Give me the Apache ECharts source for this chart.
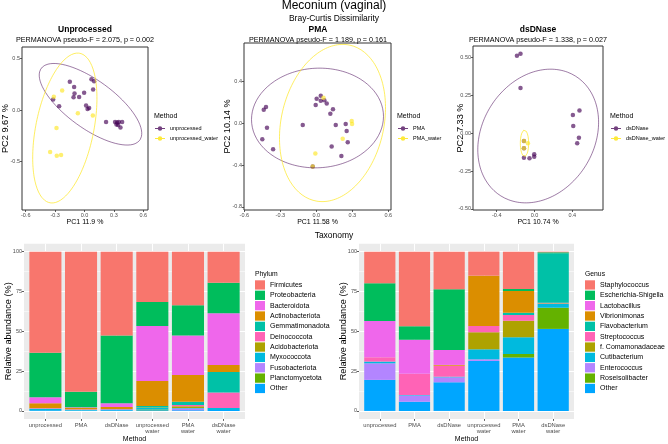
<!DOCTYPE html>
<html><head><meta charset="utf-8">
<script src="https://cdn.jsdelivr.net/npm/echarts@6/dist/echarts.min.js"></script>
<style>html,body{margin:0;padding:0;background:#fff}#c{width:668px;height:444px}</style>
</head><body><div id="c"></div><script>
// ---------------- DATA ----------------
// PCoA: Unprocessed
const unprocX = [-0.15,0.071,0.098,-0.106,0.088,-0.102,-0.004,-0.112,-0.055,-0.32,-0.259,0.016,0.031,0.047,0.22,0.312,0.333,0.35,0.384,0.326,0.343,0.367];
const unprocY = [0.274,0.297,0.278,0.223,0.2,0.16,0.168,0.123,0.126,0.103,0.036,0.045,0.01,0.019,-0.116,-0.116,-0.12,-0.116,-0.116,-0.139,-0.145,-0.168];
const unprocWaterX = [-0.228,-0.313,-0.068,0.085,-0.286,-0.351,-0.283,-0.239];
const unprocWaterY = [0.19,0.129,-0.032,-0.052,-0.174,-0.407,-0.442,-0.436];
// PCoA: PMA
const pmaX = [0.037,0.003,0.037,0.067,0.087,-0.005,0.139,0.117,-0.419,-0.438,-0.113,0.162,0.245,-0.411,0.253,-0.45,0.262,-0.36,0.128,0.209,-0.03];
const pmaY = [0.263,0.235,0.216,0.22,0.19,0.175,0.134,0.092,0.156,0.13,-0.016,-0.016,-0.007,-0.042,-0.074,-0.153,-0.181,-0.248,-0.223,-0.312,-0.414];
const pmaWaterX = [0.06,0.295,0.298,0.22,-0.008,-0.03];
const pmaWaterY = [0.245,0.022,-0.007,-0.147,-0.29,-0.414];
// PCoA: dsDNase
const dsX = [-0.186,-0.148,-0.148,0.476,0.406,0.41,0.47,0.452,-0.112,-0.112,-0.112,-0.053,-0.003,-0.003];
const dsY = [0.513,0.526,0.30,0.15,0.121,0.048,-0.029,-0.066,-0.051,-0.099,-0.161,-0.165,-0.139,-0.155];
const dsWaterX = [-0.112,-0.07,-0.112];
const dsWaterY = [-0.051,-0.066,-0.099];
// 95% ellipses: [centerX, centerY, axis1X, axis1Y, axis2X, axis2Y]
const ellUnproc = [0.061,0.056,0.503,-0.347,-0.144,-0.188];
const ellUnprocWater = [-0.201,-0.174,0.153,0.723,0.290,-0.055];
const ellPMA = [0.01,0.051,0.55,0.015,0.0,0.477];
const ellPMAWater = [0.135,0.003,0.146,0.745,0.417,-0.107];
const ellDs = [0.039,-0.018,0.635,0.04,0.074,0.44];
const ellDsWater = [-0.106,-0.066,0.044,0,0,0.088];
// tick labels
const ticksX1 = ['-0.6','-0.3','0.0','0.3','0.6'];
const ticksY1 = ['-0.5','0.0','0.5'];
const ticksX2 = ['-0.6','-0.3','0.0','0.3','0.6'];
const ticksY2 = ['-0.8','-0.4','0.0','0.4'];
const ticksX3 = ['-0.4','0.0','0.4'];
const ticksY3 = ['-0.50','-0.25','0.00','0.25','0.50'];
const ticksBar = ['0','25','50','75','100'];

// Taxonomy bars
const methods = ['unprocessed','PMA','dsDNase','unprocessed\nwater','PMA\nwater','dsDNase\nwater'];
const phylumNames = ['Firmicutes','Proteobacteria','Bacteroidota','Actinobacteriota','Gemmatimonadota','Deinococcota','Acidobacteriota','Myxococcota','Fusobacteriota','Planctomycetota','Other'];
const firmicutes      = [63.4,87.9,52.6,31.6,33.7,19.5];
const proteobacteria  = [28.0,9.8,42.5,15.0,19.0,19.2];
const bacteroidota    = [3.8,0.3,2.5,34.6,24.7,32.4];
const actinobacteriota= [2.9,0.9,1.2,15.7,16.8,4.4];
const gemmatimonadota = [0,0,0,1.0,2.0,13.0];
const deinococcota    = [0.3,0.4,0.3,0,0.8,9.6];
const acidobacteriota = [0.3,0,0,0.3,1.2,0];
const myxococcota     = [0.9,0.4,0.5,0.9,0.3,1.3];
const fusobacteriota  = [0,0,0,0,1.0,0];
const planctomycetota = [0,0,0,0.4,0,0];
const phylumOther     = [0.4,0.3,0.4,0.5,0.5,0.6];

const genusNames = ['Staphylococcus','Escherichia-Shigella','Lactobacillus','Vibrionimonas','Flavobacterium','Streptococcus','f. Comamonadaceae','Cutibacterium','Enterococcus','Roseisolibacter','Other'];
const staphylococcus  = [19.8,46.9,23.6,15.1,23.4,0.4];
const escherichia     = [23.7,8.4,38.1,0,1.3,0.6];
const lactobacillus   = [22.8,21.3,9.4,0,0,0];
const vibrionimonas   = [0,0,0.5,31.5,13.6,0];
const flavobacterium  = [0,0,0,0,1.4,31.0];
const streptococcus   = [2.7,13.4,6.9,4.0,3.6,0.4];
const comamonadaceae  = [0,0,0,10.7,10.4,0.3];
const cutibacterium   = [1.1,0.3,0.4,6.3,10.5,2.5];
const enterococcus    = [10.4,3.9,3.1,1.0,0,0];
const roseisolibacter = [0,0,0,0,2.3,13.3];
const genusOther      = [19.5,5.8,18.0,31.4,33.5,51.5];

// ---------------- STYLE / LAYOUT ----------------
const FONT = 'Liberation Sans';
const PURPLE = '#440154', YELLOW = '#FDE725';
const hue11 = ['#F8766D','#00BD5C','#EF67EB','#DB8E00','#00C1A7','#FF63B6','#AEA200','#00BADE','#B385FF','#64B200','#00A6FF'];
const phylumSeries = [firmicutes,proteobacteria,bacteroidota,actinobacteriota,gemmatimonadota,deinococcota,acidobacteriota,myxococcota,fusobacteriota,planctomycetota,phylumOther];
const genusSeries = [staphylococcus,escherichia,lactobacillus,vibrionimonas,flavobacterium,streptococcus,comamonadaceae,cutibacterium,enterococcus,roseisolibacter,genusOther];

function zip(xs, ys){ return xs.map((x,i)=>[x, ys[i]]); }
function ellipsePoints(p){
  const [cx,cy,ax,ay,bx,by] = p, pts = [];
  for (let i=0;i<=160;i++){ const t=i/160*2*Math.PI; pts.push([cx+ax*Math.cos(t)+bx*Math.sin(t), cy+ay*Math.cos(t)+by*Math.sin(t)]); }
  return pts;
}
function labelFmt(labels){ const vals = labels.map(Number); return v => { const i = vals.findIndex(u=>Math.abs(u-v)<1e-9); return i>=0?labels[i]:''; }; }

const panels = [
  {grid:{left:22,top:47,width:126,height:163}, xr:[-0.638,0.648], yr:[-0.967,0.61], xt:ticksX1, yt:ticksY1, ygap:12,
   xname:'PC1 11.9 %', yname:'PC2 9.67 %', cx:85, title:'Unprocessed', sub:'PERMANOVA pseudo-F = 2.075, p = 0.002', legendLeft:155,
   groups:[['unprocessed',unprocX,unprocY,ellUnproc,PURPLE],['unprocessed_water',unprocWaterX,unprocWaterY,ellUnprocWater,YELLOW]]},
  {grid:{left:244,top:43,width:147,height:167}, xr:[-0.6025,0.6225], yr:[-0.83,0.769], xt:ticksX2, yt:ticksY2, ygap:12,
   xname:'PC1 11.58 %', yname:'PC2 10.14 %', cx:318, title:'PMA', sub:'PERMANOVA pseudo-F = 1.189, p = 0.161', legendLeft:398,
   groups:[['PMA',pmaX,pmaY,ellPMA,PURPLE],['PMA_water',pmaWaterX,pmaWaterY,ellPMAWater,YELLOW]]},
  {grid:{left:473,top:46,width:130,height:164}, xr:[-0.651,0.725], yr:[-0.507,0.577], xt:ticksX3, yt:ticksY3, ygap:8,
   xname:'PC1 10.74 %', yname:'PC2 7.33 %', cx:538, title:'dsDNase', sub:'PERMANOVA pseudo-F = 1.338, p = 0.027', legendLeft:611,
   groups:[['dsDNase',dsX,dsY,ellDs,PURPLE],['dsDNase_water',dsWaterX,dsWaterY,ellDsWater,YELLOW]]}
];

const grid=[], xAxis=[], yAxis=[], series=[], legend=[], title=[];
const tickLabelStyle = {fontFamily:FONT, fontSize:5.5, color:'#4D4D4D'};
const legendIcon = 'path://M0,4.55L10,4.55L10,5.45L0,5.45Z M5,2.7L6.6,3.35L7.3,5L6.6,6.65L5,7.3L3.4,6.65L2.7,5L3.4,3.35Z';

title.push({text:'Meconium (vaginal)', left:334, top:0, textAlign:'center', padding:0, textStyle:{fontFamily:FONT,fontSize:12,fontWeight:'normal',color:'#000'}});
title.push({text:'Bray-Curtis Dissimilarity', left:334, top:14, textAlign:'center', padding:0, textStyle:{fontFamily:FONT,fontSize:8.5,fontWeight:'normal',color:'#000'}});
title.push({text:'Taxonomy', left:334, top:231, textAlign:'center', padding:0, textStyle:{fontFamily:FONT,fontSize:8.5,fontWeight:'normal',color:'#000'}});

panels.forEach((p,k)=>{
  grid.push(Object.assign({show:true, borderColor:'#333', borderWidth:1, backgroundColor:'#fff', containLabel:false, outerBoundsMode:'none'}, p.grid));
  const xv = p.xt.map(Number), yv = p.yt.map(Number);
  xAxis.push({type:'value', gridIndex:k, min:p.xr[0], max:p.xr[1], splitLine:{show:false}, axisLine:{show:false, onZero:false},
    axisTick:{show:true, customValues:xv, length:2, lineStyle:{color:'#333',width:0.8}},
    axisLabel:Object.assign({customValues:xv, formatter:labelFmt(p.xt), margin:2}, tickLabelStyle),
    name:p.xname, nameLocation:'middle', nameGap:9, nameMoveOverlap:false, nameTextStyle:{fontFamily:FONT,fontSize:7,color:'#000'}});
  yAxis.push({type:'value', gridIndex:k, min:p.yr[0], max:p.yr[1], splitLine:{show:false}, axisLine:{show:false, onZero:false},
    axisTick:{show:true, customValues:yv, length:2, lineStyle:{color:'#333',width:0.8}},
    axisLabel:Object.assign({customValues:yv, formatter:labelFmt(p.yt), margin:2}, tickLabelStyle),
    name:p.yname, nameLocation:'middle', nameGap:p.ygap, nameRotate:90, nameMoveOverlap:false, nameTextStyle:{fontFamily:FONT,fontSize:9.2,color:'#000'}});
  p.groups.forEach(g=>{
    series.push({type:'scatter', name:g[0], xAxisIndex:k, yAxisIndex:k, data:zip(g[1],g[2]), symbolSize:4.5,
      itemStyle:{color:g[4], opacity:0.65}, z:3, silent:true});
  });
  p.groups.forEach(g=>{
    series.push({type:'line', name:g[0]+' ellipse', xAxisIndex:k, yAxisIndex:k, data:ellipsePoints(g[3]), showSymbol:false, symbol:'none',
      lineStyle:{color:g[4], width:0.8, opacity:g[4]===PURPLE?0.65:0.9}, z:4, silent:true, animation:false});
  });
  title.push({text:p.title, left:p.cx, top:25, textAlign:'center', padding:0, textStyle:{fontFamily:FONT,fontSize:8.5,fontWeight:'bold',color:'#000'}});
  title.push({text:p.sub, left:p.cx, top:36.5, textAlign:'center', padding:0, textStyle:{fontFamily:FONT,fontSize:7.2,fontWeight:'normal',color:'#000'}});
  title.push({text:'Method', left:p.legendLeft-1, top:113, padding:0, textStyle:{fontFamily:FONT,fontSize:7,fontWeight:'normal',color:'#000'}});
  legend.push({data:p.groups.map(g=>({name:g[0], icon:legendIcon, itemStyle:{color:g[4], opacity:g[4]===PURPLE?0.75:0.9}})),
    orient:'vertical', left:p.legendLeft, top:125.5, itemWidth:10, itemHeight:7, itemGap:4, padding:0, selectedMode:false,
    textStyle:{fontFamily:FONT,fontSize:5.5,color:'#000'}});
});

// Bar panels
const barPanels = [
  {outer:{left:24,width:221}, names:phylumNames, data:phylumSeries, legendLeft:255, legendTitle:'Phylum', stack:'phylum'},
  {outer:{left:359,width:215}, names:genusNames, data:genusSeries, legendLeft:585, legendTitle:'Genus', stack:'genus'}
];
const barTop = 243.7, barH = 175.2;
barPanels.forEach((b)=>{
  const n = methods.length, band = b.outer.width/(n+0.2);
  const gOuter = grid.length;
  grid.push({show:true, left:b.outer.left, width:b.outer.width, top:barTop, height:barH, backgroundColor:'#EBEBEB', borderWidth:0, containLabel:false, outerBoundsMode:'none'});
  const gInner = grid.length;
  grid.push({show:false, left:b.outer.left+band*0.1, width:band*n, top:barTop, height:barH, containLabel:false, outerBoundsMode:'none'});
  const tv = ticksBar.map(Number);
  xAxis.push({type:'value', gridIndex:gOuter, min:0.4, max:n+0.6, show:false});
  yAxis.push({type:'value', gridIndex:gOuter, min:-5, max:105, splitLine:{show:false}, axisLine:{show:false, onZero:false},
    axisTick:{show:true, customValues:tv, length:2, lineStyle:{color:'#333',width:0.8}},
    axisLabel:Object.assign({customValues:tv, formatter:labelFmt(ticksBar), margin:2}, tickLabelStyle),
    name:'Relative abundance (%)', nameLocation:'middle', nameGap:11, nameRotate:90, nameMoveOverlap:false, nameTextStyle:{fontFamily:FONT,fontSize:9.2,color:'#000'}});
  xAxis.push({type:'category', gridIndex:gInner, data:methods, axisLine:{show:false, onZero:false},
    axisTick:{show:true, alignWithLabel:true, length:2, lineStyle:{color:'#333',width:0.8}},
    axisLabel:{fontFamily:FONT, fontSize:5.8, color:'#4D4D4D', margin:3, lineHeight:6.2, interval:0},
    name:'Method', nameLocation:'middle', nameGap:17, nameMoveOverlap:false, nameTextStyle:{fontFamily:FONT,fontSize:7,color:'#000'}});
  yAxis.push({type:'value', gridIndex:gInner, min:-5, max:105, show:false, splitLine:{show:false}});
  // white gridlines (major + minor), vertical at categories
  const glines = [];
  tv.forEach(v=>glines.push({yAxis:v, lineStyle:{color:'#fff',width:1,type:'solid'}}));
  for (let i=0;i<tv.length-1;i++) glines.push({yAxis:(tv[i]+tv[i+1])/2, lineStyle:{color:'#fff',width:0.5,type:'solid'}});
  for (let i=1;i<=n;i++) glines.push({xAxis:i, lineStyle:{color:'#fff',width:1,type:'solid'}});
  series.push({type:'line', xAxisIndex:gOuter, yAxisIndex:gOuter, data:[], z:1, silent:true,
    markLine:{silent:true, z:1, symbol:'none', label:{show:false}, animation:false, lineStyle:{type:'solid'}, emphasis:{disabled:true}, data:glines}});
  for (let s=b.names.length-1; s>=0; s--){
    series.push({type:'bar', name:b.names[s], stack:b.stack, xAxisIndex:gInner, yAxisIndex:gInner, data:b.data[s],
      barWidth:'90%', itemStyle:{color:hue11[s]}, z:3, silent:true, animation:false});
  }
  title.push({text:b.legendTitle, left:b.legendLeft, top:270.5, padding:0, textStyle:{fontFamily:FONT,fontSize:6.8,fontWeight:'normal',color:'#000'}});
  legend.push({data:b.names.map((nm,i)=>({name:nm, icon:'rect', itemStyle:{color:hue11[i]}})), orient:'vertical', left:b.legendLeft, top:280.3,
    itemWidth:10, itemHeight:9.3, itemGap:1.05, padding:0, selectedMode:false, textStyle:{fontFamily:FONT,fontSize:7,color:'#000'}});
});

const chart = echarts.init(document.getElementById('c'), null, {renderer:'canvas'});
chart.setOption({animation:false, backgroundColor:'#fff', title, grid, xAxis, yAxis, series, legend, tooltip:{show:false}});
</script></body></html>
